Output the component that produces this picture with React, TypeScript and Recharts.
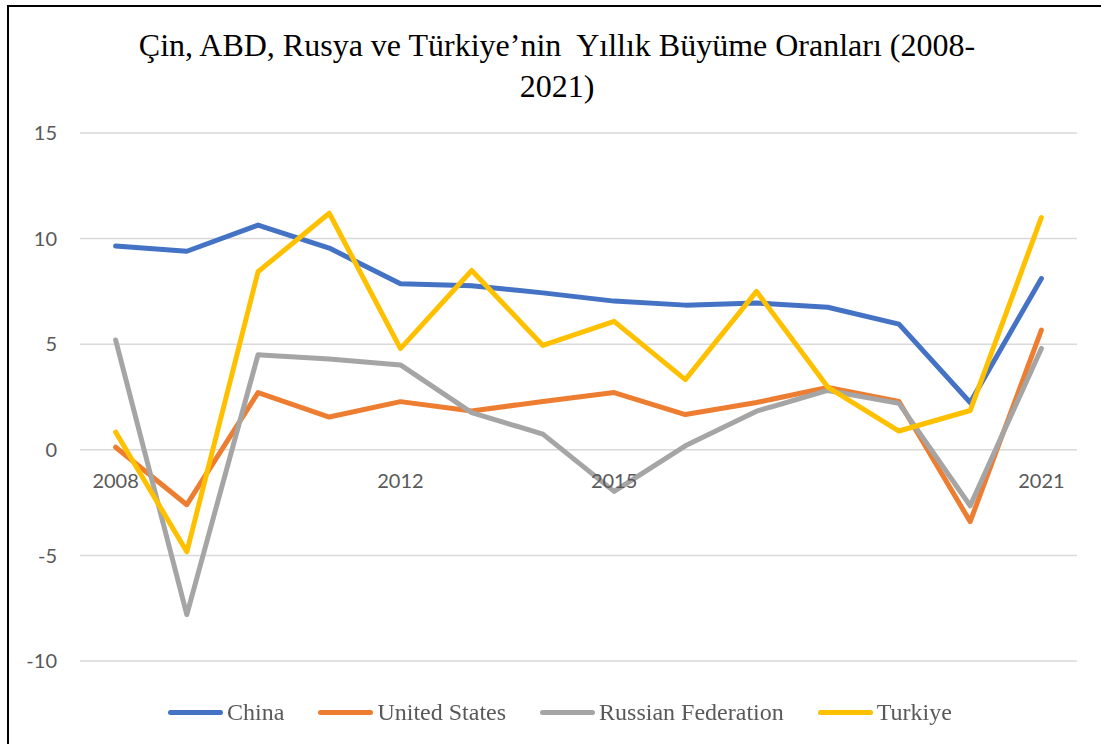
import React from 'react';
import { LineChart, Line, XAxis, YAxis, CartesianGrid, Legend } from 'recharts';

const years = ['2008', '2009', '2010', '2011', '2012', '2013', '2014', '2015', '2016', '2017', '2018', '2019', '2020', '2021'];
const china = [9.65, 9.4, 10.64, 9.55, 7.86, 7.77, 7.43, 7.04, 6.85, 6.95, 6.75, 5.95, 2.24, 8.11];
const unitedStates = [0.12, -2.6, 2.71, 1.55, 2.28, 1.84, 2.29, 2.71, 1.67, 2.24, 2.95, 2.29, -3.4, 5.67];
const russia = [5.2, -7.8, 4.5, 4.3, 4.02, 1.76, 0.74, -1.97, 0.19, 1.83, 2.81, 2.2, -2.65, 4.8];
const turkiye = [0.84, -4.83, 8.43, 11.2, 4.79, 8.49, 4.94, 6.08, 3.32, 7.5, 2.97, 0.89, 1.86, 11.0];

const xLabels = ['2008', '2012', '2015', '2021'];
const yTicks = [-10, -5, 0, 5, 10, 15];
const Y_MIN = -10;
const Y_MAX = 15;

const seriesNames = ['China', 'United States', 'Russian Federation', 'Turkiye'];
const seriesColors = ['#4472C4', '#ED7D31', '#A5A5A5', '#FFC000'];
const seriesValues = [china, unitedStates, russia, turkiye];

const data = years.map((y, i) => {
  const row: Record<string, string | number> = { year: y };
  seriesNames.forEach((n, k) => {
    row[n] = seriesValues[k][i];
  });
  return row;
});

const W = 1092;
const H = 737;
const M = { top: 126, right: 24, bottom: 82, left: 0 };
const X_AXIS_H = 1;
const PLOT_H = H - M.top - M.bottom - X_AXIS_H;
const PLOT_W = W - M.left - M.right - 71;
const HALF_BAND = PLOT_W / years.length / 2;

const renderXTick = (props: any) => {
  const { x, payload } = props;
  const label = String(payload && payload.value);
  if (!xLabels.includes(label)) return <g />;
  const zeroY = M.top + ((Y_MAX - 0) / (Y_MAX - Y_MIN)) * PLOT_H;
  return (
    <text x={x} y={zeroY + 38} textAnchor="middle" fill="#595959" fontSize={20} fontFamily="Lato, 'Open Sans', sans-serif">
      {label}
    </text>
  );
};

const LegendContent = () => (
  <div style={{ display: 'flex', justifyContent: 'center', alignItems: 'center', gap: 34 }}>
    {seriesNames.map((n, k) => (
      <div key={n} style={{ display: 'flex', alignItems: 'center' }}>
        <span style={{ display: 'inline-block', width: 55, height: 5, borderRadius: 3, background: seriesColors[k], marginRight: 4 }} />
        <span style={{ fontFamily: "'Liberation Serif', 'Times New Roman', serif", fontSize: 24, lineHeight: '28px', color: '#595959' }}>
          {n}
        </span>
      </div>
    ))}
  </div>
);

export default function App() {
  return (
    <div
      style={{
        position: 'fixed',
        left: 7,
        top: 5,
        width: W,
        height: H,
        borderLeft: '2px solid #000',
        borderTop: '2px solid #000',
        background: '#fff',
      }}
    >
      <div
        style={{
          position: 'absolute',
          left: 0,
          top: 18,
          width: 1096,
          textAlign: 'center',
          fontFamily: "'Liberation Serif', 'Times New Roman', serif",
          fontSize: 32,
          lineHeight: '41px',
          color: '#000',
          whiteSpace: 'pre',
        }}
      >
        {'Çin, ABD, Rusya ve Türkiye’nin  Yıllık Büyüme Oranları (2008-'}
        <br />
        {'2021)'}
      </div>
      <div style={{ position: 'absolute', left: 0, top: 0 }}>
        <LineChart width={W} height={H} data={data} margin={M}>
          <CartesianGrid vertical={false} stroke="#D9D9D9" strokeWidth={1.5} />
          <XAxis
            dataKey="year"
            axisLine={false}
            tickLine={false}
            height={X_AXIS_H}
            tick={renderXTick}
            interval={0}
            padding={{ left: HALF_BAND, right: HALF_BAND }}
          />
          <YAxis
            width={71}
            domain={[Y_MIN, Y_MAX]}
            ticks={yTicks}
            axisLine={false}
            tickLine={false}
            tickSize={0}
            tickMargin={23}
            tick={{ fill: '#595959', fontSize: 20, fontFamily: "Lato, 'Open Sans', sans-serif" }}
          />
          <Legend
            verticalAlign="middle"
            align="center"
            layout="horizontal"
            wrapperStyle={{ top: 691, left: 5, width: W }}
            content={<LegendContent />}
          />
          {seriesNames.map((n, k) => (
            <Line
              key={n}
              type="linear"
              dataKey={n}
              stroke={seriesColors[k]}
              strokeWidth={5}
              strokeLinejoin="round"
              strokeLinecap="round"
              dot={false}
              activeDot={false}
              isAnimationActive={false}
            />
          ))}
        </LineChart>
      </div>
    </div>
  );
}
